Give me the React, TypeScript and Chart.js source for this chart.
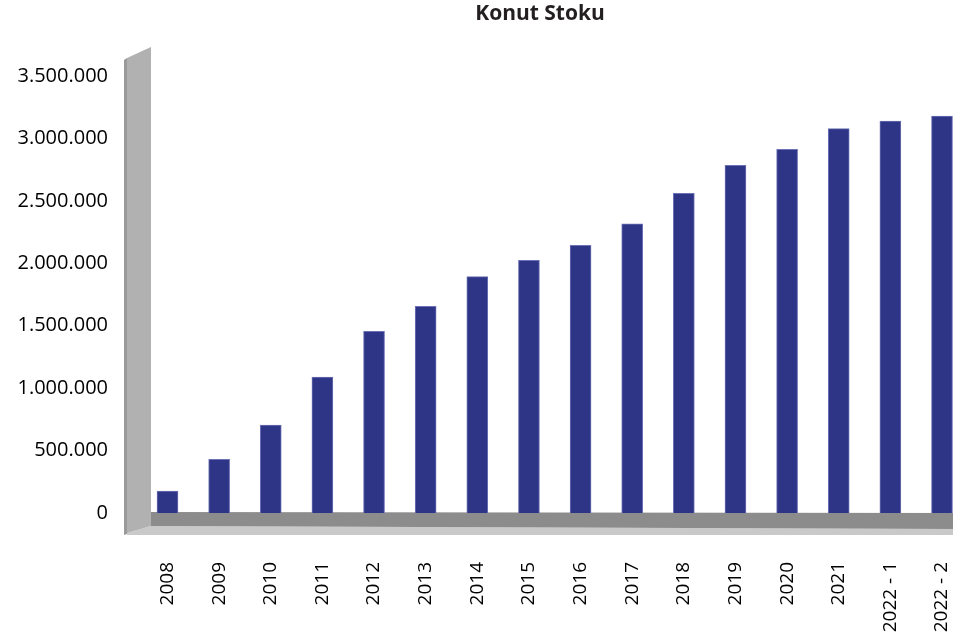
import React, { useEffect, useRef } from "react";
import { Chart, registerables } from "chart.js";

Chart.register(...registerables);

const categories = [
  "2008", "2009", "2010", "2011", "2012", "2013", "2014", "2015",
  "2016", "2017", "2018", "2019", "2020", "2021", "2022 - 1", "2022 - 2",
];
const stockValues = [
  176000, 430000, 704000, 1088000, 1456000, 1656000, 1893000, 2024000,
  2144000, 2317000, 2560000, 2784000, 2912000, 3078000, 3138000, 3178000,
];
const yMax = 3500000;
const yStep = 500000;
const chartTitle = "Konut Stoku";

const formatDots = (v: number) =>
  String(Math.round(v)).replace(/\B(?=(\d{3})+(?!\d))/g, ".");

const wallFloorPlugin = {
  id: "wallFloor",
  beforeDatasetsDraw(chart: any) {
    const { ctx, chartArea, scales } = chart;
    const L = chartArea.left;
    const R = chartArea.right;
    const B = scales.y.getPixelForValue(0);
    const T = scales.y.getPixelForValue(yMax);
    const wOut = L - 43.5;
    const wIn = L - 16.5;
    const fRight = R + 11;
    ctx.save();
    // floor front strip
    ctx.fillStyle = "#c9c9c9";
    ctx.beginPath();
    ctx.moveTo(wOut + 3, B + 20);
    ctx.lineTo(wIn, B + 13);
    ctx.lineTo(fRight, B + 16);
    ctx.lineTo(fRight, B + 22);
    ctx.lineTo(wOut + 3, B + 22);
    ctx.closePath();
    ctx.fill();
    // floor top
    ctx.fillStyle = "#8c8c8c";
    ctx.beginPath();
    ctx.moveTo(wIn, B - 1);
    ctx.lineTo(fRight, B);
    ctx.lineTo(fRight, B + 16);
    ctx.lineTo(wIn, B + 13);
    ctx.closePath();
    ctx.fill();
    // wall outer edge
    ctx.fillStyle = "#9a9a9a";
    ctx.beginPath();
    ctx.moveTo(wOut, T - 16);
    ctx.lineTo(wOut + 3, T - 18);
    ctx.lineTo(wOut + 3, B + 21);
    ctx.lineTo(wOut, B + 22);
    ctx.closePath();
    ctx.fill();
    // wall face
    ctx.fillStyle = "#b1b1b1";
    ctx.beginPath();
    ctx.moveTo(wOut + 3, T - 18);
    ctx.lineTo(wIn, T - 29);
    ctx.lineTo(wIn, B + 13);
    ctx.lineTo(wOut + 3, B + 20);
    ctx.closePath();
    ctx.fill();
    ctx.restore();
  },
  afterLayout(chart: any) {
    const tb = chart.titleBlock;
    if (tb) {
      tb.left = 120;
      tb.right = 960;
    }
  },
};

export default function App() {
  const ref = useRef<HTMLCanvasElement | null>(null);
  useEffect(() => {
    document.body.style.margin = "0";
    const canvas = ref.current;
    if (!canvas) return;
    const chart = new Chart(canvas, {
      type: "bar",
      data: {
        labels: categories,
        datasets: [
          {
            label: chartTitle,
            data: stockValues,
            backgroundColor: "#2e3586",
            borderColor: "#6d72b4",
            borderWidth: 1,
            barThickness: 21,
            clip: false as any,
          },
        ],
      },
      options: {
        responsive: false,
        animation: false,
        layout: { padding: { top: 0, right: 19, bottom: 0, left: 0 } },
        plugins: {
          legend: { display: false },
          tooltip: { enabled: false },
          title: {
            display: true,
            text: chartTitle,
            color: "#231f20",
            font: { family: "Open Sans", size: 21, weight: "bold" },
            padding: { top: 1, bottom: 49.8 },
          },
        },
        scales: {
          x: {
            type: "category",
            offset: false,
            grid: { display: false, drawTicks: false },
            border: { display: false },
            ticks: {
              color: "#000",
              font: { family: "Open Sans", size: 19 },
              minRotation: 90,
              maxRotation: 90,
              padding: 49,
              autoSkip: false,
            },
            afterFit: (s: any) => {
              s.height = 129;
              s.paddingLeft = 0;
              s.paddingRight = 0;
            },
          },
          y: {
            min: 0,
            max: yMax,
            grid: { display: false, drawTicks: false },
            border: { display: false },
            ticks: {
              stepSize: yStep,
              color: "#000",
              font: { family: "Open Sans", size: 20 },
              padding: 59.5,
              callback: (v: any) => formatDots(Number(v)),
            },
            afterFit: (s: any) => {
              s.width = 167.5;
            },
          },
        },
      },
      plugins: [wallFloorPlugin],
    });
    return () => chart.destroy();
  }, []);
  return (
    <div style={{ width: 961, height: 642 }}>
      <canvas ref={ref} width={961} height={642} style={{ display: "block" }} />
    </div>
  );
}
